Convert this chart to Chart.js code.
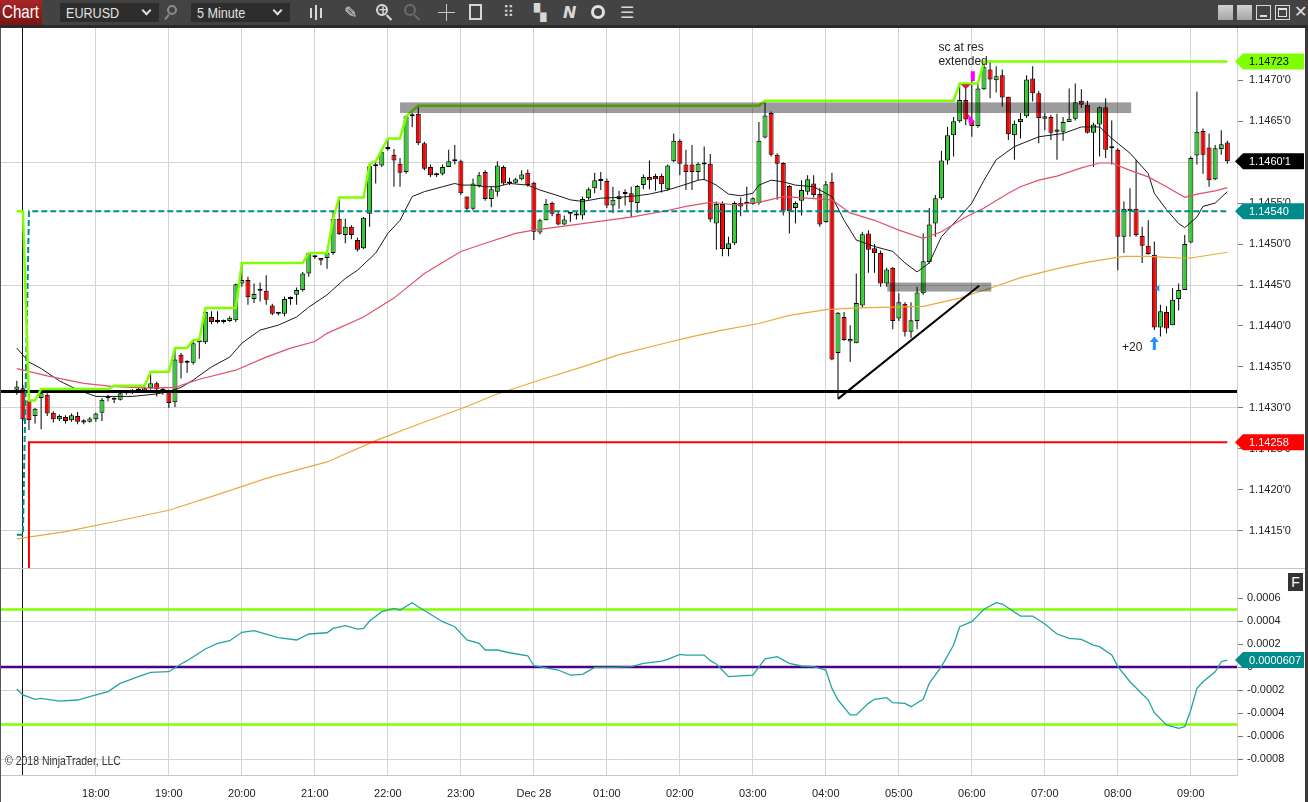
<!DOCTYPE html>
<html>
<head>
<meta charset="utf-8">
<title>EURUSD 5 Minute</title>
<script src="https://cdn.jsdelivr.net/npm/chart.js@4.4.0/dist/chart.umd.min.js"></script>
<style>
  body { margin: 0; width: 1308px; height: 802px; overflow: hidden; background: #fff; position: relative;
         font-family: 'Liberation Sans', Arial, sans-serif; }
  .narrow { display: inline-block; transform: scaleX(0.84); transform-origin: left center; white-space: nowrap; }
  #toolbar { position: absolute; left: 0; top: 0; width: 1308px; height: 25px; background: #434343; }
  #tbLine { position: absolute; left: 0; top: 25px; width: 1308px; height: 3px; background: #2a2a2a; }
  #tbChart { position: absolute; left: 0; top: 0; width: 42px; height: 25px; box-sizing: border-box; padding-left: 2px;
             background: linear-gradient(#a82626, #7a1414); color: #fff; font-size: 18px; line-height: 25px; }
  .dd { position: absolute; top: 3px; height: 19px; box-sizing: border-box; padding-left: 6px; background: #2d2d2d;
        color: #e2e2e2; font-size: 15px; line-height: 19px; }
  .chev { position: absolute; right: 9px; top: 4px; width: 5px; height: 5px; border-right: 2px solid #ddd;
          border-bottom: 2px solid #ddd; transform: rotate(45deg); }
  .ic { position: absolute; top: 2px; color: #d8d8d8; font-family: 'DejaVu Sans', sans-serif; font-size: 16px; line-height: 21px; }
  .ring { position: absolute; border-radius: 50%; box-sizing: border-box; }
  .bar { position: absolute; width: 2px; background: #d8d8d8; }
  .wb { position: absolute; top: 5px; width: 15px; height: 15px; box-sizing: border-box; }
  #pricePane { position: absolute; left: 0; top: 28px; width: 1308px; height: 540px; }
  #oscPane { position: absolute; left: 0; top: 568px; width: 1308px; height: 234px; }
  #leftEdge { position: absolute; left: 0; top: 28px; width: 1px; height: 774px; background: #555; }
  #rightEdge { position: absolute; left: 1305px; top: 28px; width: 3px; height: 774px; background: #3a3a3a; }
  #fBox { position: absolute; left: 1288px; top: 573px; width: 15px; height: 18px; background: #333; color: #fff;
          font-size: 14px; line-height: 18px; text-align: center; }
  #copy { position: absolute; left: 5px; top: 754px; font-size: 12.5px; color: #333; }
</style>
</head>
<body>
<div id="toolbar">
  <div id="tbChart"><span class="narrow">Chart</span></div>
  <div class="dd" style="left:60px;width:99px"><span class="narrow">EURUSD</span><i class="chev"></i></div>
  <div class="ring" style="left:167px;top:5px;width:10px;height:10px;border:2px solid #8a8a8a"></div>
  <div class="bar" style="left:166px;top:14px;height:6px;background:#8a8a8a;transform:rotate(40deg)"></div>
  <div class="dd" style="left:191px;width:99px"><span class="narrow">5 Minute</span><i class="chev"></i></div>
  <div class="bar" style="left:310px;top:8px;height:10px"></div>
  <div class="bar" style="left:315px;top:5px;height:15px"></div>
  <div class="bar" style="left:320px;top:8px;height:10px"></div>
  <span class="ic" style="left:344px">&#x270E;</span>
  <div class="ring" style="left:376px;top:4px;width:12px;height:12px;border:2px solid #d8d8d8"></div>
  <span class="ic" style="left:378px;top:0px;font-size:12px;font-weight:bold">+</span>
  <div class="bar" style="left:388px;top:14px;height:7px;transform:rotate(-45deg)"></div>
  <div class="ring" style="left:404px;top:4px;width:12px;height:12px;border:2px solid #6c6c6c"></div>
  <div class="bar" style="left:416px;top:14px;height:7px;background:#6c6c6c;transform:rotate(-45deg)"></div>
  <div class="bar" style="left:446px;top:4px;width:1px;height:17px;background:#c8c8c8"></div>
  <div style="position:absolute;left:438px;top:12px;width:17px;height:1px;background:#c8c8c8"></div>
  <div style="position:absolute;left:469px;top:4px;width:13px;height:16px;box-sizing:border-box;border:2px solid #d8d8d8"></div>
  <span class="ic" style="left:503px;font-size:15px">&#x283F;</span>
  <span class="ic" style="left:534px">&#x259A;</span>
  <span class="ic" style="left:563px;font-style:italic;font-weight:bold">N</span>
  <div class="ring" style="left:591px;top:5px;width:14px;height:14px;border:3px solid #e0e0e0"></div>
  <span class="ic" style="left:620px">&#x2630;</span>
  <div class="wb" style="left:1218px;background:linear-gradient(#d0d0d0,#a6a6a6)"></div>
  <div class="wb" style="left:1237px;background:linear-gradient(#d0d0d0,#a6a6a6)"></div>
  <div class="wb" style="left:1256px;border:1px solid #d6d6d6"><div style="position:absolute;left:3px;top:9px;width:7px;height:2px;background:#e0e0e0"></div></div>
  <div class="wb" style="left:1275px;border:1px solid #d6d6d6"><div style="position:absolute;left:2px;top:2px;width:9px;height:9px;box-sizing:border-box;border:1px solid #e0e0e0;border-top-width:2px"></div></div>
  <span class="ic" style="left:1294px;top:1px;font-weight:bold;color:#e0e0e0">&#x2715;</span>
</div>
<div id="tbLine"></div>
<div id="pricePane"><canvas id="priceCanvas"></canvas></div>
<div id="oscPane"><canvas id="oscCanvas"></canvas></div>
<div id="leftEdge"></div>
<div id="rightEdge"></div>
<div id="fBox">F</div>
<div id="copy"><span class="narrow">&copy; 2018 NinjaTrader, LLC</span></div>

<script>
// ---- time axis (bar index 0 = 16:55, 5 minute bars) ----
const hourTicks = [13, 25, 37, 49, 61, 73, 85, 97, 109, 121, 133, 145, 157, 169, 181, 193];
const hourLabels = ['18:00', '19:00', '20:00', '21:00', '22:00', '23:00', 'Dec 28', '01:00',
                    '02:00', '03:00', '04:00', '05:00', '06:00', '07:00', '08:00', '09:00'];
const sessionBreaks = [0.9];

// ---- price axis ----
const priceTicks = [1.1415, 1.1420, 1.1425, 1.1430, 1.1435, 1.1440, 1.1445, 1.1450, 1.1455, 1.1460, 1.1465, 1.1470];
const priceGrid = [1.1415, 1.1430, 1.1445, 1.1460];

// ---- candles ----
const opens = [
  1.14322, 1.14324, 1.14309, 1.14290, 1.14312, 1.14316, 1.14294, 1.14286, 1.14289, 1.14285,
  1.14290, 1.14285, 1.14283, 1.14286, 1.14294, 1.14312, 1.14312, 1.14310, 1.14318, 1.14319,
  1.14321, 1.14321, 1.14324, 1.14330, 1.14322, 1.14320, 1.14307, 1.14365, 1.14355, 1.14355,
  1.14380, 1.14380, 1.14411, 1.14405, 1.14405, 1.14406, 1.14407, 1.14452, 1.14456, 1.14433,
  1.14443, 1.14443, 1.14425, 1.14415, 1.14415, 1.14433, 1.14438, 1.14444, 1.14464, 1.14484,
  1.14483, 1.14483, 1.14489, 1.14531, 1.14511, 1.14521, 1.14505, 1.14495, 1.14537, 1.14595,
  1.14596, 1.14616, 1.14609, 1.14598, 1.14588, 1.14656, 1.14659, 1.14623, 1.14594, 1.14584,
  1.14586, 1.14594, 1.14601, 1.14601, 1.14558, 1.14543, 1.14571, 1.14588, 1.14555, 1.14564,
  1.14594, 1.14574, 1.14575, 1.14579, 1.14587, 1.14575, 1.14514, 1.14529, 1.14550, 1.14537,
  1.14524, 1.14537, 1.14535, 1.14535, 1.14556, 1.14568, 1.14577, 1.14577, 1.14547, 1.14555,
  1.14561, 1.14562, 1.14550, 1.14572, 1.14582, 1.14583, 1.14583, 1.14567, 1.14601, 1.14626,
  1.14597, 1.14597, 1.14588, 1.14597, 1.14598, 1.14525, 1.14549, 1.14494, 1.14501, 1.14550,
  1.14549, 1.14549, 1.14550, 1.14630, 1.14660, 1.14609, 1.14599, 1.14571, 1.14544, 1.14553,
  1.14564, 1.14574, 1.14561, 1.14527, 1.14576, 1.14367, 1.14411, 1.14381, 1.14379, 1.14425,
  1.14513, 1.14495, 1.14489, 1.14452, 1.14471, 1.14409, 1.14427, 1.14393, 1.14406, 1.14440,
  1.14478, 1.14525, 1.14556, 1.14602, 1.14633, 1.14650, 1.14676, 1.14651, 1.14644, 1.14689,
  1.14713, 1.14700, 1.14706, 1.14680, 1.14633, 1.14649, 1.14656, 1.14702, 1.14684, 1.14653,
  1.14655, 1.14637, 1.14637, 1.14649, 1.14653, 1.14675, 1.14670, 1.14636, 1.14646, 1.14667,
  1.14617, 1.14615, 1.14509, 1.14540, 1.14543, 1.14510, 1.14498, 1.14487, 1.14398, 1.14417,
  1.14401, 1.14433, 1.14444, 1.14502, 1.14608, 1.14638, 1.14618, 1.14579, 1.14616, 1.14624
];
const highs = [
  1.14333, 1.14328, 1.14309, 1.14300, 1.14323, 1.14318, 1.14296, 1.14292, 1.14291, 1.14293,
  1.14295, 1.14286, 1.14289, 1.14294, 1.14312, 1.14316, 1.14313, 1.14319, 1.14321, 1.14323,
  1.14325, 1.14327, 1.14344, 1.14332, 1.14325, 1.14322, 1.14373, 1.14367, 1.14358, 1.14383,
  1.14381, 1.14422, 1.14418, 1.14418, 1.14408, 1.14412, 1.14452, 1.14477, 1.14460, 1.14452,
  1.14453, 1.14462, 1.14427, 1.14417, 1.14436, 1.14436, 1.14447, 1.14466, 1.14489, 1.14486,
  1.14483, 1.14493, 1.14541, 1.14557, 1.14531, 1.14523, 1.14508, 1.14533, 1.14598, 1.14601,
  1.14614, 1.14629, 1.14616, 1.14605, 1.14657, 1.14660, 1.14669, 1.14625, 1.14597, 1.14587,
  1.14597, 1.14615, 1.14621, 1.14603, 1.14558, 1.14580, 1.14588, 1.14590, 1.14570, 1.14601,
  1.14596, 1.14581, 1.14581, 1.14590, 1.14591, 1.14576, 1.14531, 1.14555, 1.14552, 1.14539,
  1.14535, 1.14539, 1.14539, 1.14558, 1.14569, 1.14587, 1.14588, 1.14580, 1.14570, 1.14565,
  1.14567, 1.14570, 1.14572, 1.14585, 1.14602, 1.14586, 1.14586, 1.14597, 1.14635, 1.14628,
  1.14615, 1.14621, 1.14600, 1.14619, 1.14610, 1.14552, 1.14552, 1.14509, 1.14552, 1.14557,
  1.14570, 1.14557, 1.14649, 1.14673, 1.14662, 1.14611, 1.14600, 1.14572, 1.14552, 1.14578,
  1.14584, 1.14584, 1.14568, 1.14577, 1.14587, 1.14417, 1.14417, 1.14401, 1.14464, 1.14515,
  1.14517, 1.14500, 1.14492, 1.14471, 1.14472, 1.14440, 1.14429, 1.14429, 1.14448, 1.14513,
  1.14544, 1.14560, 1.14614, 1.14643, 1.14655, 1.14696, 1.14694, 1.14708, 1.14696, 1.14724,
  1.14724, 1.14717, 1.14713, 1.14680, 1.14651, 1.14660, 1.14706, 1.14717, 1.14687, 1.14660,
  1.14658, 1.14659, 1.14655, 1.14690, 1.14696, 1.14689, 1.14675, 1.14648, 1.14668, 1.14678,
  1.14651, 1.14617, 1.14552, 1.14568, 1.14603, 1.14521, 1.14529, 1.14503, 1.14426, 1.14424,
  1.14446, 1.14452, 1.14511, 1.14607, 1.14686, 1.14641, 1.14635, 1.14621, 1.14639, 1.14626
];
const lows = [
  1.14316, 1.14284, 1.14273, 1.14281, 1.14274, 1.14290, 1.14282, 1.14284, 1.14281, 1.14283,
  1.14280, 1.14280, 1.14282, 1.14283, 1.14284, 1.14308, 1.14306, 1.14309, 1.14316, 1.14317,
  1.14319, 1.14320, 1.14322, 1.14314, 1.14316, 1.14300, 1.14301, 1.14336, 1.14343, 1.14353,
  1.14360, 1.14378, 1.14402, 1.14403, 1.14403, 1.14405, 1.14405, 1.14448, 1.14426, 1.14428,
  1.14430, 1.14426, 1.14413, 1.14413, 1.14412, 1.14426, 1.14426, 1.14442, 1.14460, 1.14482,
  1.14474, 1.14470, 1.14487, 1.14511, 1.14501, 1.14506, 1.14491, 1.14494, 1.14521, 1.14574,
  1.14594, 1.14614, 1.14570, 1.14570, 1.14586, 1.14643, 1.14621, 1.14590, 1.14582, 1.14582,
  1.14584, 1.14594, 1.14597, 1.14560, 1.14541, 1.14541, 1.14569, 1.14553, 1.14545, 1.14558,
  1.14572, 1.14572, 1.14574, 1.14578, 1.14570, 1.14505, 1.14512, 1.14529, 1.14534, 1.14523,
  1.14523, 1.14527, 1.14530, 1.14530, 1.14554, 1.14562, 1.14566, 1.14544, 1.14538, 1.14543,
  1.14547, 1.14533, 1.14538, 1.14567, 1.14567, 1.14565, 1.14563, 1.14565, 1.14600, 1.14584,
  1.14566, 1.14566, 1.14578, 1.14578, 1.14527, 1.14493, 1.14485, 1.14485, 1.14499, 1.14534,
  1.14541, 1.14548, 1.14548, 1.14629, 1.14607, 1.14554, 1.14535, 1.14513, 1.14525, 1.14535,
  1.14560, 1.14557, 1.14521, 1.14526, 1.14358, 1.14311, 1.14382, 1.14356, 1.14379, 1.14422,
  1.14465, 1.14465, 1.14448, 1.14448, 1.14396, 1.14406, 1.14387, 1.14385, 1.14396, 1.14438,
  1.14476, 1.14509, 1.14554, 1.14597, 1.14607, 1.14648, 1.14645, 1.14631, 1.14642, 1.14688,
  1.14678, 1.14685, 1.14668, 1.14627, 1.14603, 1.14629, 1.14654, 1.14674, 1.14623, 1.14639,
  1.14627, 1.14603, 1.14626, 1.14649, 1.14651, 1.14666, 1.14635, 1.14594, 1.14607, 1.14605,
  1.14597, 1.14468, 1.14489, 1.14509, 1.14509, 1.14477, 1.14487, 1.14395, 1.14387, 1.14391,
  1.14401, 1.14419, 1.14444, 1.14501, 1.14597, 1.14586, 1.14570, 1.14578, 1.14609, 1.14598
];
const closes = [
  1.14326, 1.14286, 1.14285, 1.14299, 1.14318, 1.14293, 1.14286, 1.14290, 1.14284, 1.14291,
  1.14283, 1.14282, 1.14287, 1.14293, 1.14310, 1.14313, 1.14310, 1.14318, 1.14319, 1.14321,
  1.14321, 1.14324, 1.14330, 1.14323, 1.14321, 1.14306, 1.14359, 1.14355, 1.14356, 1.14379,
  1.14380, 1.14417, 1.14405, 1.14405, 1.14406, 1.14410, 1.14451, 1.14456, 1.14435, 1.14439,
  1.14443, 1.14432, 1.14415, 1.14415, 1.14433, 1.14434, 1.14444, 1.14464, 1.14489, 1.14484,
  1.14480, 1.14489, 1.14531, 1.14512, 1.14521, 1.14511, 1.14493, 1.14532, 1.14595, 1.14595,
  1.14612, 1.14616, 1.14602, 1.14587, 1.14656, 1.14656, 1.14623, 1.14592, 1.14584, 1.14586,
  1.14594, 1.14601, 1.14601, 1.14562, 1.14543, 1.14574, 1.14584, 1.14555, 1.14567, 1.14596,
  1.14574, 1.14574, 1.14579, 1.14585, 1.14572, 1.14515, 1.14529, 1.14549, 1.14537, 1.14524,
  1.14530, 1.14537, 1.14535, 1.14555, 1.14567, 1.14578, 1.14577, 1.14547, 1.14554, 1.14559,
  1.14561, 1.14551, 1.14571, 1.14582, 1.14578, 1.14579, 1.14573, 1.14596, 1.14626, 1.14598,
  1.14588, 1.14588, 1.14598, 1.14597, 1.14530, 1.14549, 1.14494, 1.14501, 1.14550, 1.14546,
  1.14549, 1.14556, 1.14626, 1.14657, 1.14609, 1.14598, 1.14541, 1.14540, 1.14550, 1.14566,
  1.14579, 1.14560, 1.14524, 1.14573, 1.14359, 1.14416, 1.14383, 1.14384, 1.14428, 1.14512,
  1.14493, 1.14489, 1.14452, 1.14469, 1.14406, 1.14429, 1.14393, 1.14407, 1.14441, 1.14479,
  1.14524, 1.14556, 1.14602, 1.14633, 1.14650, 1.14676, 1.14652, 1.14644, 1.14690, 1.14716,
  1.14701, 1.14705, 1.14679, 1.14634, 1.14647, 1.14653, 1.14701, 1.14684, 1.14654, 1.14656,
  1.14636, 1.14640, 1.14649, 1.14653, 1.14673, 1.14670, 1.14636, 1.14646, 1.14667, 1.14615,
  1.14617, 1.14509, 1.14543, 1.14543, 1.14511, 1.14498, 1.14488, 1.14398, 1.14418, 1.14397,
  1.14432, 1.14444, 1.14500, 1.14605, 1.14637, 1.14609, 1.14578, 1.14617, 1.14622, 1.14601
];

// ---- moving averages (read at sample bars) ----
const fastBars = [0, 2, 4, 7, 10, 13, 19, 23, 25, 27, 29, 32, 35, 37, 40, 43, 46, 48, 51, 54, 56, 59, 61, 63, 65,
  67, 70, 72, 73, 75, 77, 79, 81, 84, 86, 89, 91, 93, 96, 99, 102, 104, 107, 110, 112, 113, 115, 117, 119, 121,
  122, 124, 126, 128, 131, 134, 136, 138, 141, 144, 146, 148, 150, 152, 155, 157, 159, 161, 164, 168, 172, 175,
  178, 180, 183, 186, 187, 189, 191, 192, 194, 195, 197, 199];
const fastVals = [1.14373, 1.14356, 1.14348, 1.14333, 1.14322, 1.14314, 1.14314, 1.14317, 1.14320, 1.14325,
  1.14334, 1.14350, 1.14362, 1.14379, 1.14395, 1.14401, 1.14411, 1.14423, 1.14438, 1.14458, 1.14468, 1.14489,
  1.14513, 1.14529, 1.14558, 1.14564, 1.14570, 1.14574, 1.14572, 1.14572, 1.14570, 1.14570, 1.14574, 1.14572,
  1.14566, 1.14559, 1.14554, 1.14552, 1.14556, 1.14557, 1.14559, 1.14561, 1.14566, 1.14573, 1.14578, 1.14579,
  1.14572, 1.14561, 1.14559, 1.14562, 1.14572, 1.14578, 1.14576, 1.14572, 1.14570, 1.14558, 1.14529, 1.14505,
  1.14497, 1.14491, 1.14477, 1.14466, 1.14477, 1.14509, 1.14533, 1.14550, 1.14578, 1.14603, 1.14619, 1.14631,
  1.14635, 1.14643, 1.14643, 1.14629, 1.14611, 1.14586, 1.14562, 1.14542, 1.14525, 1.14520, 1.14533, 1.14546,
  1.14550, 1.14564];
const midBars = [0, 5, 11, 16, 22, 26, 30, 36, 41, 45, 49, 51, 57, 62, 67, 73, 77, 82, 85, 90, 96, 101, 107, 110,
  114, 118, 122, 126, 130, 134, 137, 141, 145, 149, 152, 156, 159, 163, 165, 168, 171, 175, 178, 180, 183, 186,
  189, 192, 194, 197, 199];
const midVals = [1.14348, 1.14339, 1.14330, 1.14326, 1.14324, 1.14325, 1.14335, 1.14346, 1.14362, 1.14373,
  1.14381, 1.14391, 1.14411, 1.14434, 1.14464, 1.14491, 1.14501, 1.14513, 1.14517, 1.14522, 1.14528, 1.14533,
  1.14541, 1.14546, 1.14551, 1.14548, 1.14551, 1.14558, 1.14556, 1.14554, 1.14538, 1.14529, 1.14517, 1.14507,
  1.14515, 1.14533, 1.14544, 1.14562, 1.14570, 1.14578, 1.14583, 1.14593, 1.14599, 1.14599, 1.14590, 1.14582,
  1.14570, 1.14557, 1.14561, 1.14565, 1.14569];
const slowBars = [0, 8, 16, 25, 33, 41, 51, 59, 66, 73, 79, 86, 93, 99, 106, 111, 116, 122, 127, 133, 138, 144,
  149, 155, 160, 165, 171, 176, 182, 186, 191, 193, 199];
const slowVals = [1.14140, 1.14149, 1.14161, 1.14175, 1.14194, 1.14214, 1.14234, 1.14260, 1.14280, 1.14299,
  1.14317, 1.14334, 1.14350, 1.14365, 1.14378, 1.14387, 1.14395, 1.14403, 1.14413, 1.14420, 1.14422, 1.14423,
  1.14424, 1.14434, 1.14446, 1.14459, 1.14470, 1.14478, 1.14485, 1.14485, 1.14483, 1.14483, 1.14490];

// ---- session levels ----
const highBars = [0, 1, 2, 3, 4, 15, 16, 21, 22, 25, 26, 28, 29, 30, 31, 36, 37, 47, 48, 51, 52, 53, 57, 58, 59,
  61, 63, 64, 66, 122, 123, 154, 155, 158, 159, 199];
const highVals = [1.14540, 1.14540, 1.14309, 1.14309, 1.14323, 1.14323, 1.14327, 1.14327, 1.14344, 1.14344,
  1.14373, 1.14373, 1.14383, 1.14383, 1.14422, 1.14422, 1.14477, 1.14477, 1.14489, 1.14489, 1.14531, 1.14557,
  1.14557, 1.14598, 1.14601, 1.14629, 1.14629, 1.14656, 1.14669, 1.14669, 1.14675, 1.14675, 1.14696, 1.14696,
  1.14723, 1.14723];
const lowBars = [2, 2, 199];
const lowVals = [1.13950, 1.14258, 1.14258];
const refBars = [0, 1, 2, 199];
const refVals = [1.14145, 1.14145, 1.14540, 1.14540];
const keyLevel = 1.14320;

// ---- drawings ----
const trendBars = [135, 158.2];
const trendVals = [1.14311, 1.14449];
const zoneStart = [63.0, 143.1];
const zoneEnd = [183.2, 160.2];
const zoneTop = [1.14673, 1.14453];
const zoneBottom = [1.14660, 1.14442];
const noteBars = [151.5, 181.7];
const notePrices = [1.14736, 1.14369];
const noteTexts = [['sc at res', 'extended'], ['+20']];
const signalBar = 157, signalTop = 1.14711, signalBottom = 1.14699;
const sellMarkBar = 156, sellMarkPrice = 1.14695;
const exitMarkBar = 157, exitMarkPrice = 1.14653;
const buyArrowBar = 187, buyArrowPrice = 1.14387;
const buyMarkBar = 187, buyMarkPrice = 1.14446;

// ---- oscillator ----
const oscTicks = [-0.0008, -0.0006, -0.0004, -0.0002, 0, 0.0002, 0.0004, 0.0006];
const oscGrid = [-0.0008, -0.0002, 0.0004];
const oscBars = [0, 1, 3, 4, 7, 10, 12, 15, 17, 20, 22, 25, 27, 28, 31, 33, 35, 37, 39, 43, 46, 48, 51, 52, 54,
  56, 57, 58, 60, 62, 63, 65, 66, 70, 72, 74, 76, 77, 79, 81, 84, 85, 89, 91, 93, 95, 98, 101, 103, 106, 107, 109,
  110, 113, 114, 115, 117, 121, 123, 125, 127, 129, 131, 133, 134, 135, 137, 138, 140, 141, 143, 144, 146, 147,
  149, 150, 152, 154, 155, 157, 159, 161, 162, 165, 167, 169, 171, 173, 175, 177, 178, 180, 181, 183, 186, 187,
  189, 191, 192, 193, 194, 195, 197, 198, 199];
const oscVals = [-0.000191, -0.000243, -0.000281, -0.000272, -0.000296, -0.000287, -0.000258, -0.000214,
  -0.000142, -0.000084, -0.000046, -0.000041, 0.000026, 0.000055, 0.000157, 0.000206, 0.000229, 0.000302,
  0.000316, 0.000255, 0.000235, 0.000287, 0.000298, 0.000336, 0.000359, 0.000330, 0.000336, 0.000400, 0.000481,
  0.000510, 0.000496, 0.000559, 0.000524, 0.000394, 0.000350, 0.000235, 0.000206, 0.000148, 0.000148, 0.000124,
  0.000098, 0.000011, -0.000026, -0.000070, -0.000064, -0.000003, -0.000003, 0.000003, 0.000032, 0.000052,
  0.000067, 0.000110, 0.000104, 0.000104, 0.000055, 0.000026, -0.000084, -0.000070, 0.000070, 0.000090, 0.000032,
  0.000009, 0.000003, -0.000026, -0.000186, -0.000287, -0.000417, -0.000417, -0.000316, -0.000281, -0.000267,
  -0.000310, -0.000316, -0.000345, -0.000281, -0.000142, 0.000003, 0.000191, 0.000350, 0.000394, 0.000502,
  0.000559, 0.000548, 0.000443, 0.000443, 0.000374, 0.000287, 0.000249, 0.000241, 0.000191, 0.000177, 0.000104,
  0.000003, -0.000128, -0.000287, -0.000397, -0.000504, -0.000533, -0.000519, -0.000374, -0.000186, -0.000128,
  -0.000041, 0.000046, 0.0000607];
const oscBands = [0.0005, -0.0005];
const oscZero = 0;

// ---- view ----
const X_MIN = -2.762, X_MAX = 200.59;
const P_MIN = 1.141045, P_MAX = 1.147638;
const O_MIN = -0.000939, O_MAX = 0.000861;

const FONT = "'Liberation Sans', Arial, sans-serif";
const GRID = '#d4d4d4';
const UP = '#32cd32', DOWN = '#ff0000';
const LIME = '#7fff00', TEAL = '#008b8b';
const AXIS_W = 71;

const pts = (xs, ys) => xs.map((x, k) => ({ x: x, y: ys[k] }));
const flat = v => [{ x: X_MIN, y: v }, { x: X_MAX, y: v }];
const near = (list, v) => list.some(g => Math.abs(g - v) < 1e-7);

function fmtPrice(v) {
  const s = v.toFixed(5);
  return s.slice(0, 6) + "'" + s.slice(6);
}

// no automatic label padding: the plot must fill its pane exactly
function fitY(s) {
  s.width = AXIS_W;
  s.paddingTop = 0;
  s.paddingBottom = 0;
}

function drawFlag(chart, yPix, text, bg, fg) {
  const ctx = chart.ctx;
  const x0 = chart.chartArea.right - 2, x1 = x0 + 8, x2 = chart.width - 4, h = 8;
  ctx.save();
  ctx.beginPath();
  ctx.moveTo(x0, yPix);
  ctx.lineTo(x1, yPix - h);
  ctx.lineTo(x2, yPix - h);
  ctx.lineTo(x2, yPix + h);
  ctx.lineTo(x1, yPix + h);
  ctx.closePath();
  ctx.fillStyle = bg;
  ctx.fill();
  ctx.fillStyle = fg;
  ctx.font = '11px ' + FONT;
  ctx.textAlign = 'left';
  ctx.textBaseline = 'middle';
  ctx.fillText(text, x0 + 14, yPix + 0.5);
  ctx.restore();
}

function drawSessionBreaks(chart) {
  const { ctx, chartArea: a, scales: { x } } = chart;
  ctx.save();
  ctx.strokeStyle = '#111';
  ctx.lineWidth = 1;
  sessionBreaks.forEach(b => {
    const px = Math.round(x.getPixelForValue(b)) + 0.5;
    ctx.beginPath();
    ctx.moveTo(px, a.top);
    ctx.lineTo(px, a.bottom);
    ctx.stroke();
  });
  ctx.restore();
}

const priceOverlay = {
  id: 'priceOverlay',
  beforeDatasetsDraw(chart) {
    drawSessionBreaks(chart);
  },
  afterDatasetsDraw(chart) {
    const { ctx, chartArea: a, scales: { x, y } } = chart;
    ctx.save();
    ctx.beginPath();
    ctx.rect(a.left, a.top, a.right - a.left, a.bottom - a.top);
    ctx.clip();

    // zones
    ctx.globalCompositeOperation = 'multiply';
    ctx.fillStyle = '#9c9c9c';
    zoneStart.forEach((s, k) => {
      const x0 = x.getPixelForValue(s), x1 = x.getPixelForValue(zoneEnd[k]);
      const y0 = y.getPixelForValue(zoneTop[k]), y1 = y.getPixelForValue(zoneBottom[k]);
      ctx.fillRect(x0, y0, x1 - x0, y1 - y0);
    });
    ctx.globalCompositeOperation = 'source-over';

    // signal marks
    let px = x.getPixelForValue(signalBar);
    ctx.fillStyle = '#ff00ff';
    ctx.fillRect(px - 1, y.getPixelForValue(signalTop), 4, y.getPixelForValue(signalBottom) - y.getPixelForValue(signalTop));

    px = x.getPixelForValue(sellMarkBar);
    let py = y.getPixelForValue(sellMarkPrice);
    ctx.fillStyle = '#c8283c';
    ctx.beginPath();
    ctx.moveTo(px - 5, py); ctx.lineTo(px + 5, py); ctx.lineTo(px, py + 5);
    ctx.closePath(); ctx.fill();

    px = x.getPixelForValue(exitMarkBar);
    py = y.getPixelForValue(exitMarkPrice);
    ctx.fillStyle = '#ff00ff';
    ctx.beginPath();
    ctx.moveTo(px - 4, py - 5); ctx.lineTo(px + 3, py + 3); ctx.lineTo(px - 3, py + 5);
    ctx.closePath(); ctx.fill();

    px = x.getPixelForValue(buyArrowBar);
    py = y.getPixelForValue(buyArrowPrice);
    ctx.fillStyle = '#1e90ff';
    ctx.beginPath();
    ctx.moveTo(px, py); ctx.lineTo(px + 4.5, py + 5.5); ctx.lineTo(px + 1.5, py + 5.5);
    ctx.lineTo(px + 1.5, py + 13.5); ctx.lineTo(px - 1.5, py + 13.5); ctx.lineTo(px - 1.5, py + 5.5);
    ctx.lineTo(px - 4.5, py + 5.5);
    ctx.closePath(); ctx.fill();

    px = x.getPixelForValue(buyMarkBar);
    py = y.getPixelForValue(buyMarkPrice);
    ctx.beginPath();
    ctx.moveTo(px + 1, py); ctx.lineTo(px + 5, py - 3.5); ctx.lineTo(px + 5, py + 3.5);
    ctx.closePath(); ctx.fill();

    // notes
    ctx.fillStyle = '#222';
    ctx.font = '12px ' + FONT;
    ctx.textAlign = 'left';
    ctx.textBaseline = 'alphabetic';
    noteBars.forEach((b, k) => {
      const nx = x.getPixelForValue(b), ny = y.getPixelForValue(notePrices[k]);
      noteTexts[k].forEach((t, j) => ctx.fillText(t, nx, ny + j * 14.5));
    });
    ctx.restore();
  },
  afterDraw(chart) {
    const y = chart.scales.y;
    drawFlag(chart, y.getPixelForValue(highVals[highVals.length - 1]), highVals[highVals.length - 1].toFixed(5), LIME, '#000');
    drawFlag(chart, y.getPixelForValue(refVals[refVals.length - 1]), refVals[refVals.length - 1].toFixed(5), TEAL, '#fff');
    drawFlag(chart, y.getPixelForValue(lowVals[lowVals.length - 1]), lowVals[lowVals.length - 1].toFixed(5), DOWN, '#fff');
    drawFlag(chart, y.getPixelForValue(closes[closes.length - 1]), fmtPrice(closes[closes.length - 1]), '#000', '#fff');
  }
};

const oscOverlay = {
  id: 'oscOverlay',
  beforeDatasetsDraw(chart) {
    drawSessionBreaks(chart);
    const { ctx, chartArea: a } = chart;
    ctx.save();
    ctx.strokeStyle = '#c4c4c4';
    ctx.lineWidth = 1;
    ctx.beginPath();
    ctx.moveTo(0, a.top + 0.5);
    ctx.lineTo(chart.width, a.top + 0.5);
    ctx.stroke();
    ctx.restore();
  },
  afterDraw(chart) {
    const v = oscVals[oscVals.length - 1];
    drawFlag(chart, chart.scales.y.getPixelForValue(v), v.toFixed(7), TEAL, '#fff');
  }
};

const xBase = {
  type: 'linear', min: X_MIN, max: X_MAX, offset: false,
  afterBuildTicks: s => { s.ticks = hourTicks.map(v => ({ value: v })); },
  grid: { color: GRID, drawTicks: false, offset: false }
};

const candleIdx = opens.map((_, i) => i);

new Chart(document.getElementById('priceCanvas'), {
  type: 'bar',
  data: {
    datasets: [
      { type: 'line', data: pts(highBars, highVals), borderColor: LIME, borderWidth: 2.5, pointRadius: 0, order: 1 },
      { type: 'line', data: pts(refBars, refVals), borderColor: TEAL, borderWidth: 2, borderDash: [6, 3], pointRadius: 0, order: 1 },
      { type: 'line', data: pts(lowBars, lowVals), borderColor: DOWN, borderWidth: 2, pointRadius: 0, order: 1 },
      { type: 'line', data: flat(keyLevel), borderColor: '#000', borderWidth: 3, pointRadius: 0, order: 1 },
      { type: 'line', data: pts(trendBars, trendVals), borderColor: '#000', borderWidth: 2, pointRadius: 0, order: 1 },
      { type: 'line', data: pts(slowBars, slowVals), borderColor: '#e8aa3c', borderWidth: 1.2, pointRadius: 0, order: 2 },
      { type: 'line', data: pts(midBars, midVals), borderColor: '#e3506c', borderWidth: 1.2, pointRadius: 0, order: 2 },
      { type: 'line', data: pts(fastBars, fastVals), borderColor: '#1a1a1a', borderWidth: 1, pointRadius: 0, order: 2 },
      { data: candleIdx.map(i => ({ x: i, y: [opens[i], closes[i]] })),
        backgroundColor: candleIdx.map(i => closes[i] >= opens[i] ? UP : DOWN),
        borderColor: '#000', borderWidth: 1, borderSkipped: false, barThickness: 5, minBarLength: 2,
        grouped: false, inflateAmount: 0, order: 5 },
      { data: candleIdx.map(i => ({ x: i, y: [lows[i], highs[i]] })),
        backgroundColor: '#000', borderWidth: 0, barThickness: 1, grouped: false, inflateAmount: 0, order: 6 }
    ]
  },
  options: {
    responsive: true, maintainAspectRatio: false, animation: false, devicePixelRatio: 1,
    layout: { padding: 0, autoPadding: false },
    plugins: { legend: { display: false }, tooltip: { enabled: false } },
    scales: {
      x: Object.assign({}, xBase, {
        ticks: { display: false },
        border: { display: false },
        afterFit: s => { s.height = 0; s.paddingLeft = 0; s.paddingRight = 0; }
      }),
      y: {
        position: 'right', min: P_MIN, max: P_MAX,
        afterBuildTicks: s => { s.ticks = priceTicks.map(v => ({ value: v })); },
        ticks: { callback: v => fmtPrice(v), font: { family: FONT, size: 11 }, color: '#222', padding: 6, autoSkip: false },
        grid: { color: c => (c.tick && near(priceGrid, c.tick.value)) ? GRID : 'rgba(0,0,0,0)', tickColor: '#777', tickLength: 6 },
        border: { display: true, color: '#d0d0d0' },
        afterFit: fitY
      }
    }
  },
  plugins: [priceOverlay]
});

new Chart(document.getElementById('oscCanvas'), {
  type: 'line',
  data: {
    datasets: [
      { data: pts(oscBars, oscVals), borderColor: '#24a3a3', borderWidth: 1.3, pointRadius: 0, order: 1 },
      { data: flat(oscZero), borderColor: '#4b0082', borderWidth: 2.5, pointRadius: 0, order: 2 },
      { data: flat(oscBands[0]), borderColor: LIME, borderWidth: 2.5, pointRadius: 0, order: 2 },
      { data: flat(oscBands[1]), borderColor: LIME, borderWidth: 2.5, pointRadius: 0, order: 2 }
    ]
  },
  options: {
    responsive: true, maintainAspectRatio: false, animation: false, devicePixelRatio: 1,
    layout: { padding: 0, autoPadding: false },
    plugins: { legend: { display: false }, tooltip: { enabled: false } },
    scales: {
      x: Object.assign({}, xBase, {
        ticks: { callback: v => hourLabels[hourTicks.indexOf(v)], font: { family: FONT, size: 11 }, color: '#222',
                 padding: 12, maxRotation: 0, autoSkip: false },
        border: { display: true, color: '#c4c4c4' },
        afterFit: s => { s.height = 27; s.paddingLeft = 0; s.paddingRight = 0; }
      }),
      y: {
        position: 'right', min: O_MIN, max: O_MAX,
        afterBuildTicks: s => { s.ticks = oscTicks.map(v => ({ value: v })); },
        ticks: { callback: v => v === 0 ? '0' : v.toFixed(4), font: { family: FONT, size: 11 }, color: '#222', padding: 4, autoSkip: false },
        grid: { color: c => (c.tick && near(oscGrid, c.tick.value)) ? GRID : 'rgba(0,0,0,0)', tickColor: '#777', tickLength: 6 },
        border: { display: true, color: '#d0d0d0' },
        afterFit: fitY
      }
    }
  },
  plugins: [oscOverlay]
});
</script>
</body>
</html>
